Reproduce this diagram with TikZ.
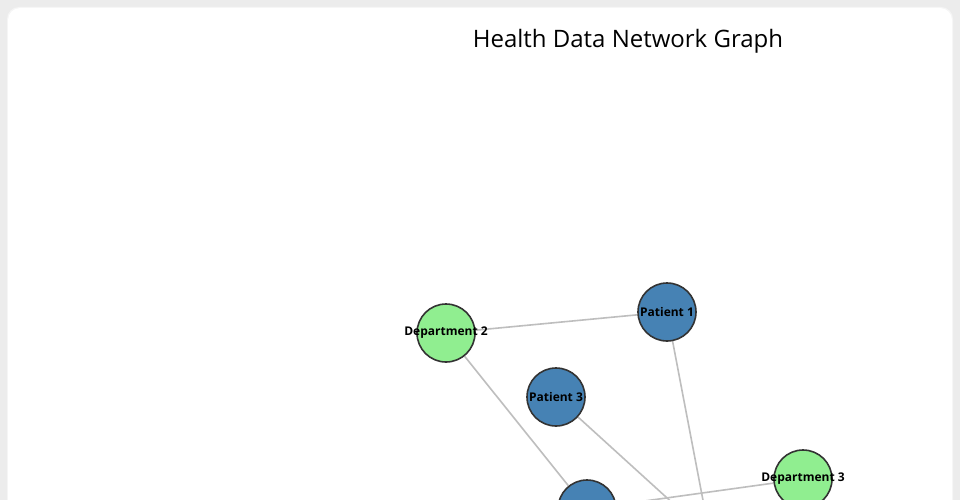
\documentclass[tikz,border=0pt]{standalone}
\usepackage{fontspec}
\setmainfont{Open Sans}
\usetikzlibrary{backgrounds}
\definecolor{patientblue}{HTML}{4682B4}
\definecolor{deptgreen}{HTML}{90EE90}
\definecolor{linkgray}{HTML}{BEBEBE}
\definecolor{pagegray}{HTML}{ECECEC}
\newcommand{\nodename}[1]{\makebox[0pt]{#1}}
\begin{document}
\begin{tikzpicture}[x=1pt,y=-1pt,
    patient/.style={circle,draw=black!80,line width=1.6pt,fill=patientblue,
        minimum size=58pt,inner sep=0pt,font=\bfseries\fontsize{12}{14}\selectfont},
    dept/.style={patient,fill=deptgreen},
    link/.style={draw=linkgray,line width=1.6pt}]
    \useasboundingbox (0,0) rectangle (960,500);
    \clip (0,0) rectangle (960,500);

    \node[font=\fontsize{24}{28}\selectfont] (title) at (628,41) {Health Data Network Graph};

    \node[dept] (d2) at (446,333) {\nodename{Department 2}};
    \node[patient] (p1) at (667,312) {\nodename{Patient 1}};
    \node[patient] (p3) at (556,397) {\nodename{Patient 3}};
    \node[dept] (d3) at (803,479) {\nodename{Department 3}};
    \node[patient] (p4) at (587,509) {};
    \coordinate (off) at (710,537);

    \begin{pgfonlayer}{background}
        \fill[pagegray] (0,0) rectangle (960,500);
        \fill[black!4,rounded corners=12pt] (7,7) rectangle (953,530);
        \fill[white,rounded corners=12pt] (8,8) rectangle (952,530);
        \draw[link] (d2) -- (p1);
        \draw[link] (d2) -- (p4);
        \draw[link] (p1) -- (off);
        \draw[link] (p3) -- (off);
        \draw[link] (d3) -- (p4);
    \end{pgfonlayer}
\end{tikzpicture}
\end{document}
